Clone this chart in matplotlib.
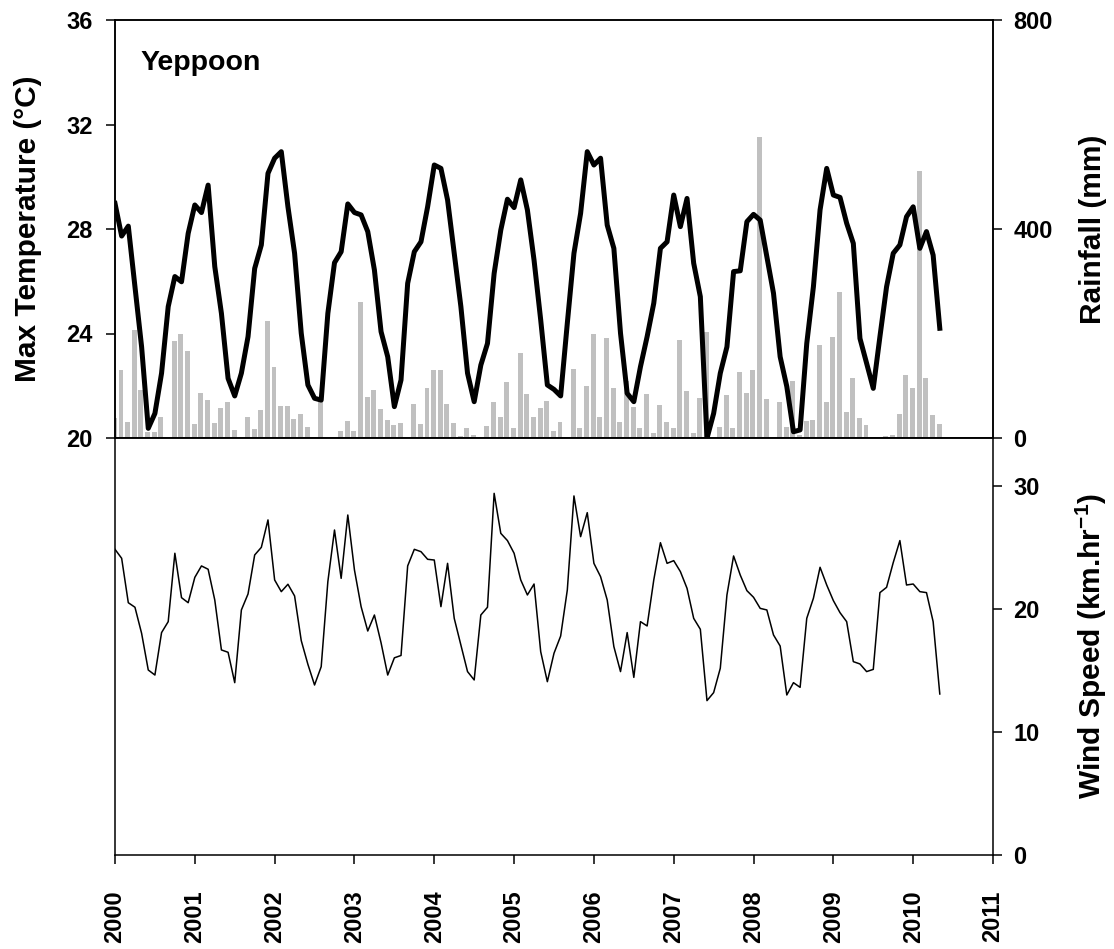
import matplotlib
matplotlib.use('Agg')
import matplotlib.pyplot as plt
import numpy as np

plt.rcParams['font.family'] = ['Liberation Sans', 'DejaVu Sans']
plt.rcParams['font.weight'] = 'bold'
plt.rcParams['mathtext.fontset'] = 'custom'
plt.rcParams['mathtext.rm'] = 'Liberation Sans:bold'
plt.rcParams['mathtext.bf'] = 'Liberation Sans:bold'
plt.rcParams['mathtext.it'] = 'Liberation Sans:bold'

# ---------------- data (monthly, Jan 2000 - May 2010) ----------------
start_year = 2000
max_temp = [
    28.98, 27.73, 28.11, 25.79, 23.49, 20.37, 20.94, 22.48, 25.03, 26.18, 25.98, 27.83,
    28.92, 28.63, 29.68, 26.56, 24.77, 22.28, 21.61, 22.48, 23.88, 26.49, 27.39, 30.13,
    30.71, 30.96, 28.85, 27.07, 24.01, 22.03, 21.52, 21.45, 24.77, 26.71, 27.13, 28.96,
    28.63, 28.54, 27.90, 26.43, 24.07, 23.11, 21.20, 22.22, 25.92, 27.13, 27.51, 28.85,
    30.45, 30.32, 29.11, 27.07, 25.03, 22.48, 21.39, 22.79, 23.62, 26.30, 27.96, 29.14,
    28.82, 29.88, 28.73, 26.81, 24.52, 22.03, 21.86, 21.61, 24.39, 27.07, 28.60, 30.96,
    30.45, 30.71, 28.15, 27.26, 24.01, 21.71, 21.39, 22.73, 23.88, 25.16, 27.26, 27.51,
    29.30, 28.09, 29.17, 26.69, 25.41, 19.99, 20.94, 22.48, 23.49, 26.37, 26.40, 28.28,
    28.56, 28.34, 26.94, 25.54, 23.11, 21.97, 20.24, 20.31, 23.62, 25.79, 28.73, 30.32,
    29.30, 29.21, 28.22, 27.45, 23.81, 22.86, 21.90, 23.88, 25.79, 27.07, 27.39, 28.47,
    28.85, 27.26, 27.90, 27.00, 24.20,
]
rainfall = [
    38, 130, 31, 207, 91, 12, 12, 40, 0, 186, 200, 167,
    27, 87, 73, 29, 57, 68, 15, 0, 40, 17, 54, 224,
    135, 61, 61, 36, 45, 22, 0, 73, 0, 0, 13, 33,
    13, 261, 78, 92, 55, 34, 24, 28, 0, 65, 27, 95,
    131, 131, 66, 28, 4, 20, 5, 0, 23, 68, 40, 107,
    20, 163, 84, 41, 58, 70, 13, 30, 0, 132, 19, 100,
    200, 41, 192, 95, 31, 110, 60, 20, 84, 9, 64, 31,
    19, 188, 90, 10, 76, 202, 0, 22, 82, 20, 127, 86,
    130, 577, 75, 0, 68, 22, 109, 5, 33, 34, 178, 68,
    194, 279, 50, 114, 39, 24, 0, 0, 4, 6, 45, 121,
    95, 511, 114, 44, 27,
]
wind_speed = [
    24.85, 24.12, 20.51, 20.14, 18.02, 15.04, 14.63, 18.08, 18.97, 24.53, 20.92, 20.51,
    22.57, 23.50, 23.23, 20.73, 16.67, 16.48, 14.01, 19.92, 21.22, 24.39, 25.01, 27.24,
    22.36, 21.41, 22.01, 21.06, 17.43, 15.50, 13.82, 15.31, 22.22, 26.42, 22.49, 27.64,
    23.17, 20.19, 18.21, 19.51, 17.25, 14.63, 16.03, 16.22, 23.50, 24.85, 24.66, 24.04,
    23.98, 20.19, 23.71, 19.24, 17.07, 14.91, 14.23, 19.51, 20.14, 29.40, 26.15, 25.56,
    24.53, 22.36, 21.14, 22.03, 16.53, 14.09, 16.40, 17.80, 21.54, 29.19, 25.88, 27.83,
    23.71, 22.63, 20.73, 16.94, 14.91, 18.08, 14.44, 18.97, 18.62, 22.36, 25.39, 23.71,
    23.93, 23.04, 21.68, 19.24, 18.35, 12.55, 13.20, 15.18, 21.14, 24.31, 22.76, 21.49,
    20.95, 20.05, 19.92, 17.89, 16.99, 13.01, 14.01, 13.63, 19.24, 20.87, 23.39, 21.95,
    20.68, 19.70, 18.97, 15.72, 15.53, 14.91, 15.09, 21.33, 21.76, 23.77, 25.56, 21.95,
    22.03, 21.41, 21.33, 18.97, 13.09,
]
year_ticks = list(range(2000, 2012))
temp_ticks = [20, 24, 28, 32, 36]
rain_ticks = [0, 400, 800]
wind_ticks = [0, 10, 20, 30]

months = start_year + np.arange(len(max_temp)) / 12.0

# ---------------- figure ----------------
W, H = 1114, 949
fig = plt.figure(figsize=(W / 100, H / 100), dpi=100)


def ax_rect(x0, y0, x1, y1):
    return [x0 / W, 1 - y1 / H, (x1 - x0) / W, (y1 - y0) / H]


LW = 1.1
TICK_FS = 17

ax_t = fig.add_axes(ax_rect(115, 20, 993, 438))
ax_r = ax_t.twinx()
ax_w = fig.add_axes(ax_rect(115, 438, 993, 855))

# rainfall bars
ax_r.bar(months - 0.008, rainfall, width=0.062, color='#c0c0c0', linewidth=0)
ax_r.set_ylim(0, 800)
ax_r.set_yticks(rain_ticks)

# temperature line
ax_t.plot(months, max_temp, color='black', lw=3.6)
ax_t.set_ylim(20, 36)
ax_t.set_yticks(temp_ticks)
ax_t.set_xlim(2000, 2011)
ax_t.set_zorder(ax_r.get_zorder() + 1)
ax_t.patch.set_visible(False)
ax_t.tick_params(axis='x', bottom=False, labelbottom=False)

# wind speed
ax_w.plot(months, wind_speed, color='black', lw=1.1)
ax_w.set_xlim(2000, 2011)
ax_w.set_ylim(0, 33.9)
ax_w.set_yticks(wind_ticks)
ax_w.yaxis.tick_right()
ax_w.set_xticks(year_ticks)
ax_w.set_xticklabels([str(y) for y in year_ticks], rotation=90)

for ax in (ax_t, ax_r, ax_w):
    for s in ax.spines.values():
        s.set_linewidth(LW)
    ax.tick_params(direction='out', length=6.5, width=LW, labelsize=TICK_FS)

ax_t.tick_params(axis='y', pad=9.5)
ax_r.tick_params(axis='y', pad=8)
ax_w.tick_params(axis='y', pad=8, left=False, labelleft=False)
ax_w.tick_params(axis='x', pad=19)
for lab in ax_t.get_yticklabels() + ax_r.get_yticklabels() + ax_w.get_yticklabels() + ax_w.get_xticklabels():
    lab.set_fontweight('bold')

# labels
def fig_xy(px, py):
    return px / W, 1 - py / H

LABEL_FS = 21.5
common = dict(rotation=90, ha='center', va='baseline', rotation_mode='anchor',
              fontsize=LABEL_FS, fontweight='bold')
fig.text(*fig_xy(36, 229), 'Max Temperature (°C)', **common)
fig.text(*fig_xy(1101, 229), 'Rainfall (mm)', **common)
fig.text(*fig_xy(1101, 646), r'Wind Speed (km.hr$^{-1}$)', **common)
fig.text(*fig_xy(140, 70), 'Yeppoon', ha='left', va='baseline', fontsize=20.5, fontweight='bold')

fig.savefig('out.png', dpi=100)
